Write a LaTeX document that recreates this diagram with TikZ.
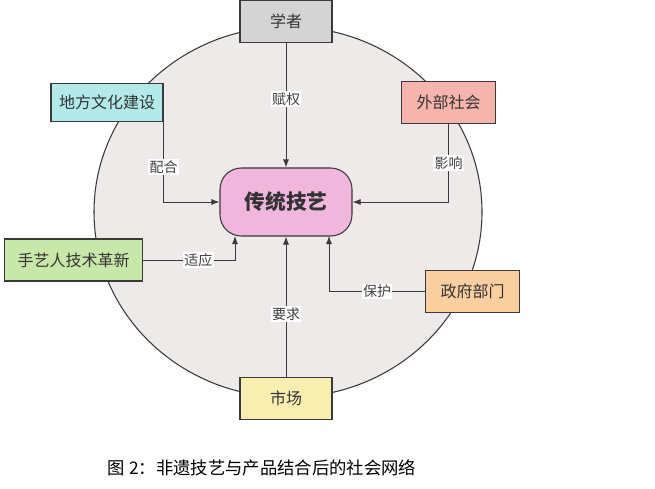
\documentclass[tikz,border=0pt]{standalone}
\usepackage{fontspec}
\setmainfont{Liberation Serif}
\newfontfamily\cjk{Noto Sans CJK SC}
\usepackage{xcolor}
\usepackage{tikz}
\usetikzlibrary{arrows.meta,positioning,calc}

\definecolor{lineg}{HTML}{3A3A3A}
\definecolor{ringbg}{HTML}{EEEAEA}
\definecolor{cgray}{HTML}{D4D4D4}
\definecolor{ccyan}{HTML}{B3E9E9}
\definecolor{csalmon}{HTML}{F5B5AD}
\definecolor{cpink}{HTML}{F0B6DC}
\definecolor{cgreen}{HTML}{C8E8A9}
\definecolor{cpeach}{HTML}{F9CFA0}
\definecolor{cyellow}{HTML}{F7EEB0}

\begin{document}
\begin{tikzpicture}[
  x=0.75pt, y=-0.75pt,
  actor/.style={rectangle, draw=lineg, line width=0.8pt, text=black!80,
                font=\cjk\fontsize{12}{14}\selectfont, minimum height=31pt,
                inner sep=0pt, align=center},
  core/.style={rectangle, draw=lineg, line width=0.8pt, fill=cpink,
               rounded corners=16pt, font=\cjk\bfseries\fontsize{15.5}{18}\selectfont,
               text=black!80, minimum width=99pt, minimum height=51pt, inner sep=0pt},
  rel/.style={draw=lineg, line width=0.7pt, -{Latex[length=6pt,width=4.5pt]}},
  lbl/.style={fill=white, inner sep=1pt, text=black!75,
              font=\cjk\fontsize{10.5}{12}\selectfont},
]
\useasboundingbox (0,0) rectangle (655,488);

% Background ring
\draw[lineg, line width=0.8pt, fill=ringbg] (288,212) ellipse [x radius=145.5pt, y radius=139pt];

% Entities
\node[core] (CT) at (286,202) {传统技艺};
\node[actor, fill=cgray, minimum width=69pt] (XZ) at (286,21.5) {学者};
\node[actor, fill=ccyan, minimum width=84pt, minimum height=29pt] (DF) at (107,102.5) {地方文化建设};
\node[actor, fill=csalmon, minimum width=70pt] (WB) at (448.5,102.5) {外部社会};
\node[actor, fill=cgreen, minimum width=104pt, minimum height=31.5pt] (SY) at (73.5,260) {手艺人技术革新};
\node[actor, fill=cpeach, minimum width=70pt] (ZF) at (472.5,291.5) {政府部门};
\node[actor, fill=cyellow, minimum width=69pt] (SC) at (286,398.5) {市场};

\coordinate (CTsl) at (235,236);
\coordinate (CTsr) at (329,236);

% Relationships
\draw[rel] (XZ) -- node[lbl, pos=0.45]{赋权} (CT);
\draw[rel] (DF.south east) |- node[lbl, pos=0.28]{配合} (CT);
\draw[rel] (WB) |- node[lbl, pos=0.25]{影响} (CT);
\draw[rel] (SY) -| node[lbl, pos=0.3]{适应} (CTsl);
\draw[rel] (ZF) -| node[lbl, pos=0.25]{保护} (CTsr);
\draw[rel] (SC) -- node[lbl, pos=0.45]{要求} (CT);

% Caption
\node[font=\cjk\fontsize{13}{15}\selectfont] (CAP) at (262,468) {图 2：非遗技艺与产品结合后的社会网络};
\end{tikzpicture}
\end{document}
